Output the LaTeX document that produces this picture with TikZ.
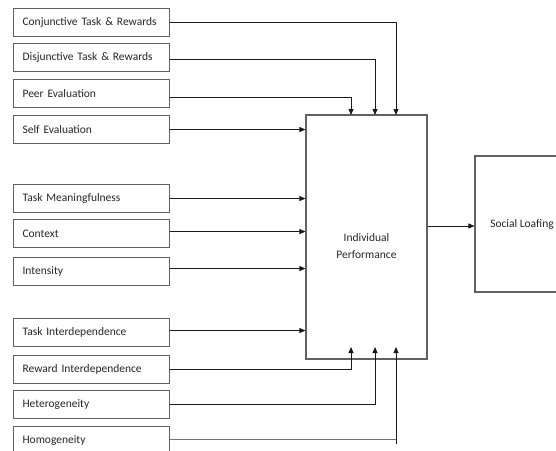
\documentclass[tikz,border=0pt]{standalone}
\usepackage{fontspec}
\setmainfont{Carlito}
\usetikzlibrary{arrows.meta,calc}
\begin{document}
\begin{tikzpicture}[x=1pt,y=-1pt,
  lbox/.style={draw=black!62, line width=1.1pt, rectangle, anchor=north west,
    minimum width=156pt, minimum height=28pt, text width=138pt, inner xsep=9pt,
    align=left, font=\fontsize{11.5}{14}\selectfont, text=black!85},
  bbox/.style={draw=black!62, line width=1.1pt, rectangle, inner sep=0pt},
  conn/.style={line width=0.8pt, draw=black!90},
  arr/.style={conn, -{Triangle[length=6pt,width=5pt]}}]
\clip (0,0) rectangle (556,450);
\fill[white] (0,0) rectangle (556,450);
% left boxes
\node[lbox] (conj) at (13,8) {Conjunctive Task \& Rewards};
\node[lbox] (disj) at (13,43) {Disjunctive Task \& Rewards};
\node[lbox] (peer) at (13,79) {Peer Evaluation};
\node[lbox] (self) at (13,115) {Self Evaluation};
\node[lbox] (tm) at (13,184) {Task Meaningfulness};
\node[lbox] (ctx) at (13,219) {Context};
\node[lbox] (int) at (13,257) {Intensity};
\node[lbox] (ti) at (13,318) {Task Interdependence};
\node[lbox] (ri) at (13,355) {Reward Interdependence};
\node[lbox] (het) at (13,390) {Heterogeneity};
\node[lbox] (hom) at (13,426) {Homogeneity};
% big box
\node[bbox, minimum width=121pt, minimum height=244pt,
  label={[name=ipl, align=center, yshift=-9pt, font=\fontsize{11.5}{17}\selectfont, text=black!85]center:{Individual\\Performance}}]
  (ip) at (366.5,237) {};
\node[bbox, minimum width=94pt, minimum height=136pt,
  font=\fontsize{11.5}{14}\selectfont, text=black!85] (sl) at (522,224) {Social Loafing};
% coordinates
\coordinate (t1) at (351,115);
\coordinate (t2) at (375,115);
\coordinate (t3) at (396,115);
\coordinate (b1) at (351,347);
\coordinate (b2) at (375,347);
\coordinate (b3) at (396,347);
\coordinate (hb) at (396,444);
% top connectors
\draw[arr] ($(conj.east)+(0,0)$) -| (t3);
\draw[arr] ($(disj.east)+(0,2)$) -| (t2);
\draw[arr] ($(peer.east)+(0,4)$) -| (t1);
% left connectors
\draw[arr] (self.east) -- (self.east -| ip.west);
\draw[arr] (tm.east) -- (tm.east -| ip.west);
\draw[arr] ($(ctx.east)+(0,-2)$) -- ($(ctx.east -| ip.west)+(0,-2)$);
\draw[arr] ($(int.east)+(0,-3)$) -- ($(int.east -| ip.west)+(0,-3)$);
\draw[arr] ($(ti.east)+(0,-2)$) -- ($(ti.east -| ip.west)+(0,-2)$);
% bottom connectors
\draw[arr] (ri.east) -| (b1);
\draw[arr] (het.east) -| (b2);
\draw[conn, draw=black!55] ($(hom.east)+(0,-1)$) -- ($(hom.east -| hb)+(0,-1)$);
\draw[arr] (hb) -- (b3);
% output
\draw[conn, -{Triangle[length=6pt,width=5pt]}, line width=0.6pt] (sl.west -| ip.east) ++(0,2) -- ($(sl.west)+(0,2)$);
\end{tikzpicture}
\end{document}
